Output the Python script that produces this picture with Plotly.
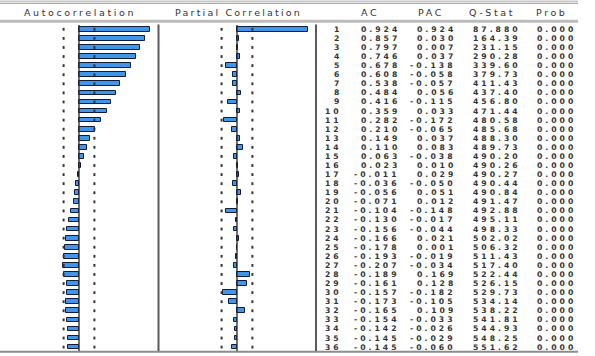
import plotly.graph_objects as go

lags = list(range(1, 37))
ac = [0.924, 0.857, 0.797, 0.746, 0.678, 0.608, 0.538, 0.484, 0.416, 0.359,
      0.282, 0.210, 0.149, 0.110, 0.063, 0.023, -0.011, -0.036, -0.056, -0.071,
      -0.104, -0.130, -0.156, -0.166, -0.178, -0.193, -0.207, -0.189, -0.161, -0.157,
      -0.173, -0.165, -0.154, -0.142, -0.145, -0.145]
pac = [0.924, 0.030, 0.007, 0.037, -0.138, -0.058, -0.057, 0.056, -0.115, 0.033,
       -0.172, -0.065, 0.037, 0.083, -0.038, 0.010, 0.029, -0.050, 0.051, 0.012,
       -0.148, -0.017, -0.044, 0.021, 0.001, -0.019, -0.034, 0.169, 0.128, -0.182,
       -0.105, 0.109, -0.033, -0.026, -0.029, -0.060]
qstat = ["87.880", "164.39", "231.15", "290.28", "339.60", "379.73", "411.43", "437.40",
         "456.80", "471.44", "480.58", "485.68", "488.30", "489.73", "490.20", "490.26",
         "490.27", "490.44", "490.84", "491.47", "492.88", "495.11", "498.33", "502.02",
         "506.32", "511.43", "517.40", "522.44", "526.15", "529.73", "534.14", "538.22",
         "541.81", "544.93", "548.25", "551.62"]
prob = ["0.000"] * 36
band = 0.2  # approx. 2/sqrt(T)

col_headers = ["AC", "PAC", "Q-Stat", "Prob"]
panel_titles = ["Autocorrelation", "Partial Correlation"]

W, H = 595, 356
PXU = 77.0  # pixels per correlation unit
ROW = 9.08
Y_TOP = 1 - 29.3 / ROW
Y_BOT = 36 + (H - 347.1) / ROW

BAR_FILL = "#4196ea"
BAR_LINE = "#0f1d3a"
TXT = "#333333"
FONT = "DejaVu Sans"


def px(x):
    return x / W


def py(y):
    return 1 - y / H


def sp(s, ls=2.4, bold=False):
    inner = f"<b>{s}</b>" if bold else s
    return f'<span style="letter-spacing:{ls}px">{inner}</span>'


fig = go.Figure()

for xa in ["x", "x2"]:
    for b in (-band, band):
        fig.add_trace(go.Scatter(
            x=[b] * len(lags), y=lags, xaxis=xa, yaxis="y", mode="markers",
            marker=dict(symbol="line-ns", size=2,
                        line=dict(color="#333333", width=2)),
            hoverinfo="skip"))

fig.add_trace(go.Bar(x=ac, y=lags, orientation="h", width=0.52,
                     xaxis="x", yaxis="y",
                     marker=dict(color=BAR_FILL, line=dict(color=BAR_LINE, width=1))))
fig.add_trace(go.Bar(x=pac, y=lags, orientation="h", width=0.52,
                     xaxis="x2", yaxis="y",
                     marker=dict(color=BAR_FILL, line=dict(color=BAR_LINE, width=1))))

half = 79 / PXU
fig.update_layout(
    width=W, height=H, margin=dict(l=0, r=0, t=0, b=0),
    paper_bgcolor="white", plot_bgcolor="white", showlegend=False,
    bargap=0,
    xaxis=dict(domain=[0, px(158)], range=[-half, half], visible=False, fixedrange=True),
    xaxis2=dict(domain=[px(158), px(316)], range=[-half, half], visible=False,
                anchor="y", fixedrange=True),
    yaxis=dict(domain=[0, 1], range=[Y_BOT, Y_TOP], visible=False, fixedrange=True),
)

shapes = []
# horizontal rules
shapes.append(dict(type="line", xref="paper", yref="paper", x0=0, x1=px(578),
                   y0=py(1.2), y1=py(1.2), line=dict(color="#a8a8a8", width=1)))
shapes.append(dict(type="line", xref="paper", yref="paper", x0=0, x1=px(578),
                   y0=py(3.4), y1=py(3.4), line=dict(color="#a8a8a8", width=1.2)))
shapes.append(dict(type="line", xref="paper", yref="paper", x0=0, x1=px(578),
                   y0=py(21.3), y1=py(21.3), line=dict(color="#bcbcbc", width=3)))
shapes.append(dict(type="line", xref="paper", yref="paper", x0=0, x1=px(578),
                   y0=py(351.8), y1=py(351.8), line=dict(color="#8c8c8c", width=2)))
# vertical dividers
for xd in (158.5, 316):
    shapes.append(dict(type="line", xref="paper", yref="paper", x0=px(xd), x1=px(xd),
                       y0=py(24.5), y1=py(351), line=dict(color="#5a5a5a", width=2)))
# zero lines
for xa in ("x", "x2"):
    shapes.append(dict(type="line", xref=xa, yref="paper", x0=0, x1=0,
                       y0=py(25), y1=py(351), line=dict(color="#222222", width=1.3)))
fig.update_layout(shapes=shapes)

ann = []
hdr_font = dict(family=FONT, size=9.5, color=TXT)
ann.append(dict(text=sp(panel_titles[0], 2.6), x=px(80), y=py(12.3), xref="paper", yref="paper",
                showarrow=False, xanchor="center", yanchor="middle", font=hdr_font, borderpad=0))
ann.append(dict(text=sp(panel_titles[1], 2.2), x=px(238), y=py(12.3), xref="paper", yref="paper",
                showarrow=False, xanchor="center", yanchor="middle", font=hdr_font, borderpad=0))
for h, cx in zip(col_headers, [370, 431, 492, 552]):
    ann.append(dict(text=sp(h, 2.6), x=px(cx), y=py(12.3), xref="paper", yref="paper",
                    showarrow=False, xanchor="center", yanchor="middle", font=hdr_font,
                    borderpad=0))

num_font = dict(family=FONT, size=7.7, color=TXT)
cols = [
    ([str(l) for l in lags], 343),
    ([f"{v:.3f}" for v in ac], 401),
    ([f"{v:.3f}" for v in pac], 457),
    (qstat, 522),
    (prob, 577),
]
for texts, xr in cols:
    for l, t in zip(lags, texts):
        ann.append(dict(text=sp(t, 3.0, bold=True), x=px(xr), y=l, xref="paper", yref="y",
                        showarrow=False, xanchor="right", yanchor="middle",
                        font=num_font, borderpad=0))
fig.update_layout(annotations=ann)

fig.write_html("out.html")
